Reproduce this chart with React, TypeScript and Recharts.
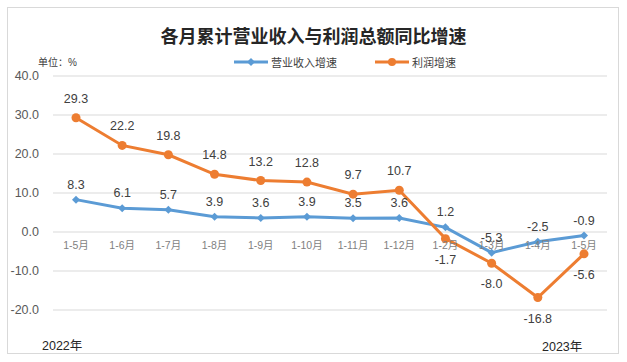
import { CartesianGrid, LabelList, Line, LineChart, XAxis, YAxis } from "recharts";

const months = [
  "1-5月", "1-6月", "1-7月", "1-8月", "1-9月", "1-10月",
  "1-11月", "1-12月", "1-2月", "1-3月", "1-4月", "1-5月",
];
const revenueGrowth = [8.3, 6.1, 5.7, 3.9, 3.6, 3.9, 3.5, 3.6, 1.2, -5.3, -2.5, -0.9];
const profitGrowth = [29.3, 22.2, 19.8, 14.8, 13.2, 12.8, 9.7, 10.7, -1.7, -8.0, -16.8, -5.6];
const yTicks = [-20, -10, 0, 10, 20, 30, 40];

const BLUE = "#5B9BD5";
const ORANGE = "#ED7D31";
const FONT = "'Liberation Sans', 'Noto Sans CJK SC', sans-serif";

const W = 627;
const H = 362;
const MARGIN = { top: 76, right: 20, bottom: 22, left: 8 };
const X_AXIS_H = 30;
const PLOT_H = H - MARGIN.top - MARGIN.bottom - X_AXIS_H;
const Y_MIN = -20;
const Y_MAX = 40;

const data = months.map((m, i) => ({
  month: m,
  revenue: revenueGrowth[i],
  profit: profitGrowth[i],
}));

// category labels sit just under the 0 line, not at the bottom
function MonthTick(props: any) {
  const { x, y, payload } = props;
  const zeroY = y - (PLOT_H * (0 - Y_MIN)) / (Y_MAX - Y_MIN);
  return (
    <text x={x} y={zeroY + 17} textAnchor="middle" fontSize={10.5} fill="#7f7f7f" fontFamily={FONT}>
      {payload.value}
    </text>
  );
}

function Diamond(props: any) {
  const { cx, cy } = props;
  if (cx == null || cy == null) return null;
  const r = 4;
  return <path d={`M${cx},${cy - r}L${cx + r},${cy}L${cx},${cy + r}L${cx - r},${cy}Z`} fill={BLUE} />;
}

function RevenueLabel(props: any) {
  const { x, y, value } = props;
  return (
    <text x={x} y={y - 11} textAnchor="middle" fontSize={12.5} fill="#404040" fontFamily={FONT}>
      {Number(value).toFixed(1)}
    </text>
  );
}

function ProfitLabel(props: any) {
  const { x, y, value, index } = props;
  const below = index >= 8;
  return (
    <text
      x={x}
      y={below ? y + 25 : y - 15}
      textAnchor="middle"
      fontSize={12.5}
      fill="#404040"
      fontFamily={FONT}
    >
      {Number(value).toFixed(1)}
    </text>
  );
}

const textStyle = { position: "absolute" as const, fontFamily: FONT, whiteSpace: "nowrap" as const };

export default function App() {
  return (
    <div style={{ position: "absolute", left: 0, top: 0, width: W, height: H, background: "#fff" }}>
      <div
        style={{
          position: "absolute",
          left: 7,
          top: 7,
          width: 612,
          height: 347,
          border: "1px solid #d9d9d9",
          boxSizing: "border-box",
        }}
      />
      <div style={{ ...textStyle, left: 0, width: W, top: 22, textAlign: "center", fontSize: 18, fontWeight: 600, color: "#262626" }}>
        各月累计营业收入与利润总额同比增速
      </div>
      <div style={{ ...textStyle, left: 38, top: 54, fontSize: 10, color: "#404040" }}>单位：%</div>
      <div style={{ ...textStyle, left: 234, top: 54, display: "flex", alignItems: "center", fontSize: 11, color: "#404040" }}>
        <svg width={34} height={16}>
          <line x1={0} y1={8} x2={34} y2={8} stroke={BLUE} strokeWidth={3} />
          <path d="M17,4L21,8L17,12L13,8Z" fill={BLUE} />
        </svg>
        <span style={{ marginLeft: 3 }}>营业收入增速</span>
        <svg width={34} height={16} style={{ marginLeft: 38 }}>
          <line x1={0} y1={8} x2={34} y2={8} stroke={ORANGE} strokeWidth={3} />
          <circle cx={17} cy={8} r={4} fill={ORANGE} />
        </svg>
        <span style={{ marginLeft: 3 }}>利润增速</span>
      </div>
      <div style={{ ...textStyle, left: 42, top: 335, fontSize: 12.5, color: "#262626" }}>2022年</div>
      <div style={{ ...textStyle, left: 542, top: 336, fontSize: 12.5, color: "#262626" }}>2023年</div>
      <div style={{ position: "absolute", left: 0, top: 0 }}>
        <LineChart width={W} height={H} data={data} margin={MARGIN}>
          <CartesianGrid vertical={false} stroke="#d9d9d9" />
          <XAxis
            dataKey="month"
            height={X_AXIS_H}
            axisLine={false}
            tickLine={false}
            tickSize={0}
            tickMargin={0}
            interval={0}
            padding={{ left: 23, right: 23 }}
            tick={<MonthTick />}
          />
          <YAxis
            domain={[Y_MIN, Y_MAX]}
            ticks={yTicks}
            width={45}
            axisLine={false}
            tickLine={false}
            tickMargin={8}
            tickFormatter={(v) => Number(v).toFixed(1)}
            tick={{ fontSize: 12.5, fill: "#595959", fontFamily: FONT }}
          />
          <Line
            dataKey="revenue"
            stroke={BLUE}
            strokeWidth={3}
            dot={<Diamond />}
            isAnimationActive={false}
          >
            <LabelList dataKey="revenue" content={<RevenueLabel />} />
          </Line>
          <Line
            dataKey="profit"
            stroke={ORANGE}
            strokeWidth={3}
            dot={{ r: 4.5, fill: ORANGE, stroke: ORANGE, strokeWidth: 0 }}
            isAnimationActive={false}
          >
            <LabelList dataKey="profit" content={<ProfitLabel />} />
          </Line>
        </LineChart>
      </div>
    </div>
  );
}
